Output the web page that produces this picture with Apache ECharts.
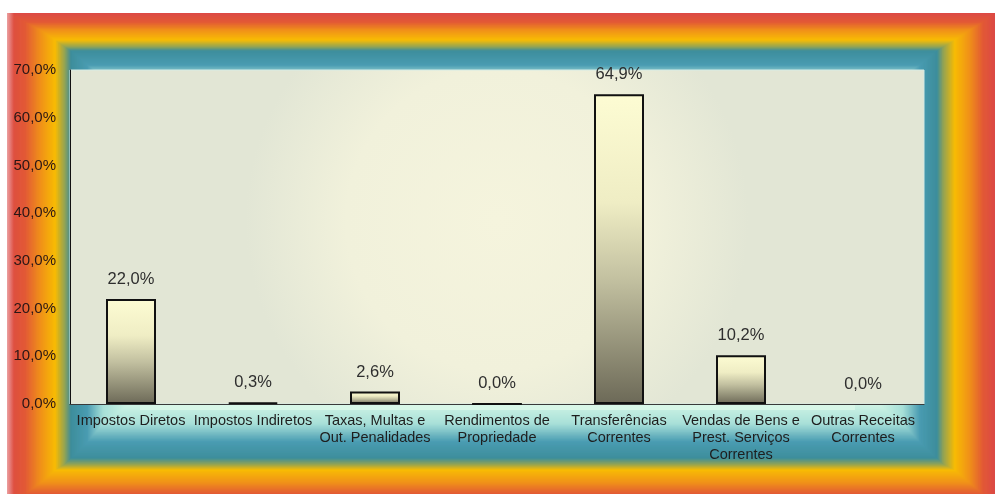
<!DOCTYPE html>
<html>
<head>
<meta charset="utf-8">
<script src="https://cdn.jsdelivr.net/npm/echarts@6/dist/echarts.min.js"></script>
<style>
html,body{margin:0;padding:0;background:#fff;}
#c{width:995px;height:494px;}
</style>
</head>
<body>
<div id="c"></div>
<script>
const categories = [
  "Impostos Diretos",
  "Impostos Indiretos",
  "Taxas, Multas e\nOut. Penalidades",
  "Rendimentos de\nPropriedade",
  "Transferências\nCorrentes",
  "Vendas de Bens e\nPrest. Serviços\nCorrentes",
  "Outras Receitas\nCorrentes"
];
const values = [22.0, 0.3, 2.6, 0.04, 64.9, 10.2, 0.0];
const yTicks = { min: 0, max: 70, interval: 10 };

function fmt(v) { return v.toFixed(1).replace('.', ',') + '%'; }

// ---- decorative frame: nested rectangles forming a rectangular gradient ----
const knotColors = [
  [220, 74, 70],   // red
  [226, 90, 54],   // red end
  [240,144, 26],   // orange end
  [248,188,  4],   // yellow end
  [143,162, 88],   // olive end
  [ 62,142,156],   // teal
  [ 74,156,178],   // teal end
  [168,224,216],   // light cyan
  [212,246,230]    // mint
];
// inset distances (px) from each edge per knot: top, left, right, bottom
const insTop    = [0, 9, 17, 27, 34, 38, 52, 62, 85];
const insLeft   = [0, 18, 33, 48, 58, 64, 80, 96, 125];
const insRight  = [0, 12, 25, 40, 52, 58, 75, 92, 120];
const insBottom = [-10, 0, 11, 24, 30, 36, 52, 70, 92];
const EX0 = 7, EY0 = 13, EX1 = 995, EY1 = 494;
function lerp(a, b, f) { return a + (b - a) * f; }
const frame = [];
const nK = knotColors.length;
for (let s = 0; s <= nK - 1 + 1e-9; s += 0.03) {
  const i = Math.min(Math.floor(s), nK - 2);
  const f = s - i;
  const t = lerp(insTop[i], insTop[i+1], f);
  const l = lerp(insLeft[i], insLeft[i+1], f);
  const r = lerp(insRight[i], insRight[i+1], f);
  const b = lerp(insBottom[i], insBottom[i+1], f);
  const c = knotColors[i].map((v, k) => Math.round(lerp(v, knotColors[i+1][k], f)));
  frame.push({
    type: 'rect', silent: true, z: -10,
    shape: { x: EX0 + l, y: EY0 + t, width: (EX1 - r) - (EX0 + l), height: (EY1 - b) - (EY0 + t) },
    style: { fill: 'rgb(' + c.join(',') + ')' }
  });
}
// center fill
frame.push({
  type: 'rect', silent: true, z: -10,
  shape: { x: 140, y: 110, width: 715, height: 300 },
  style: { fill: '#d8f7e8' }
});
// pink highlight on left outer edge
frame.push({
  type: 'rect', silent: true, z: -10,
  shape: { x: EX0, y: EY0, width: 7, height: EY1 - EY0 },
  style: { fill: new echarts.graphic.LinearGradient(0, 0, 1, 0, [
    { offset: 0, color: 'rgba(236,160,160,1)' },
    { offset: 1, color: 'rgba(236,160,160,0)' }
  ]) }
});
// plot area background
frame.push({
  type: 'rect', silent: true, z: -9,
  shape: { x: 70, y: 70, width: 854, height: 334 },
  style: {
    fill: new echarts.graphic.RadialGradient(0.5, 0.45, 0.75, [
      { offset: 0, color: '#f5f4dd' },
      { offset: 0.6, color: '#f1f1db' },
      { offset: 1, color: '#e2e6d5' }
    ]),
    stroke: '#d5ebe5', lineWidth: 1
  }
});

const FONT = 'Liberation Sans, Arial, sans-serif';
const chart = echarts.init(document.getElementById('c'), null, { renderer: 'canvas' });
chart.setOption({
  animation: false,
  backgroundColor: 'transparent',
  textStyle: { fontFamily: FONT },
  graphic: { elements: frame },
  grid: { left: 70, right: 71, top: 70, bottom: 90, containLabel: false },
  xAxis: {
    type: 'category',
    data: categories,
    axisLine: { show: true, lineStyle: { color: '#3a3a3a', width: 1 } },
    axisTick: { show: false },
    axisLabel: { interval: 0, color: '#1e1e1e', fontSize: 14.5, lineHeight: 17, margin: 8, fontFamily: FONT }
  },
  yAxis: {
    type: 'value',
    min: yTicks.min, max: yTicks.max, interval: yTicks.interval,
    axisLine: { show: true, lineStyle: { color: '#111', width: 1 } },
    axisTick: { show: false },
    splitLine: { show: false },
    axisLabel: { formatter: fmt, color: '#2a1616', fontSize: 15, margin: 14, fontFamily: FONT }
  },
  series: [{
    type: 'bar',
    barWidth: 50,
    data: values.map(v => ({ value: v, itemStyle: v === 0 ? { borderWidth: 0 } : undefined })),
    itemStyle: {
      color: new echarts.graphic.LinearGradient(0, 0, 0, 1, [
        { offset: 0, color: '#fdfcd3' },
        { offset: 0.35, color: '#efedc4' },
        { offset: 0.6, color: '#c2c0a0' },
        { offset: 1, color: '#6c6957' }
      ]),
      borderColor: '#111',
      borderWidth: 2
    },
    label: {
      show: true, position: 'top', distance: 11,
      formatter: p => fmt(p.value),
      color: '#2e2e2e', fontSize: 16.5, fontFamily: FONT
    }
  }]
});
</script>
</body>
</html>
